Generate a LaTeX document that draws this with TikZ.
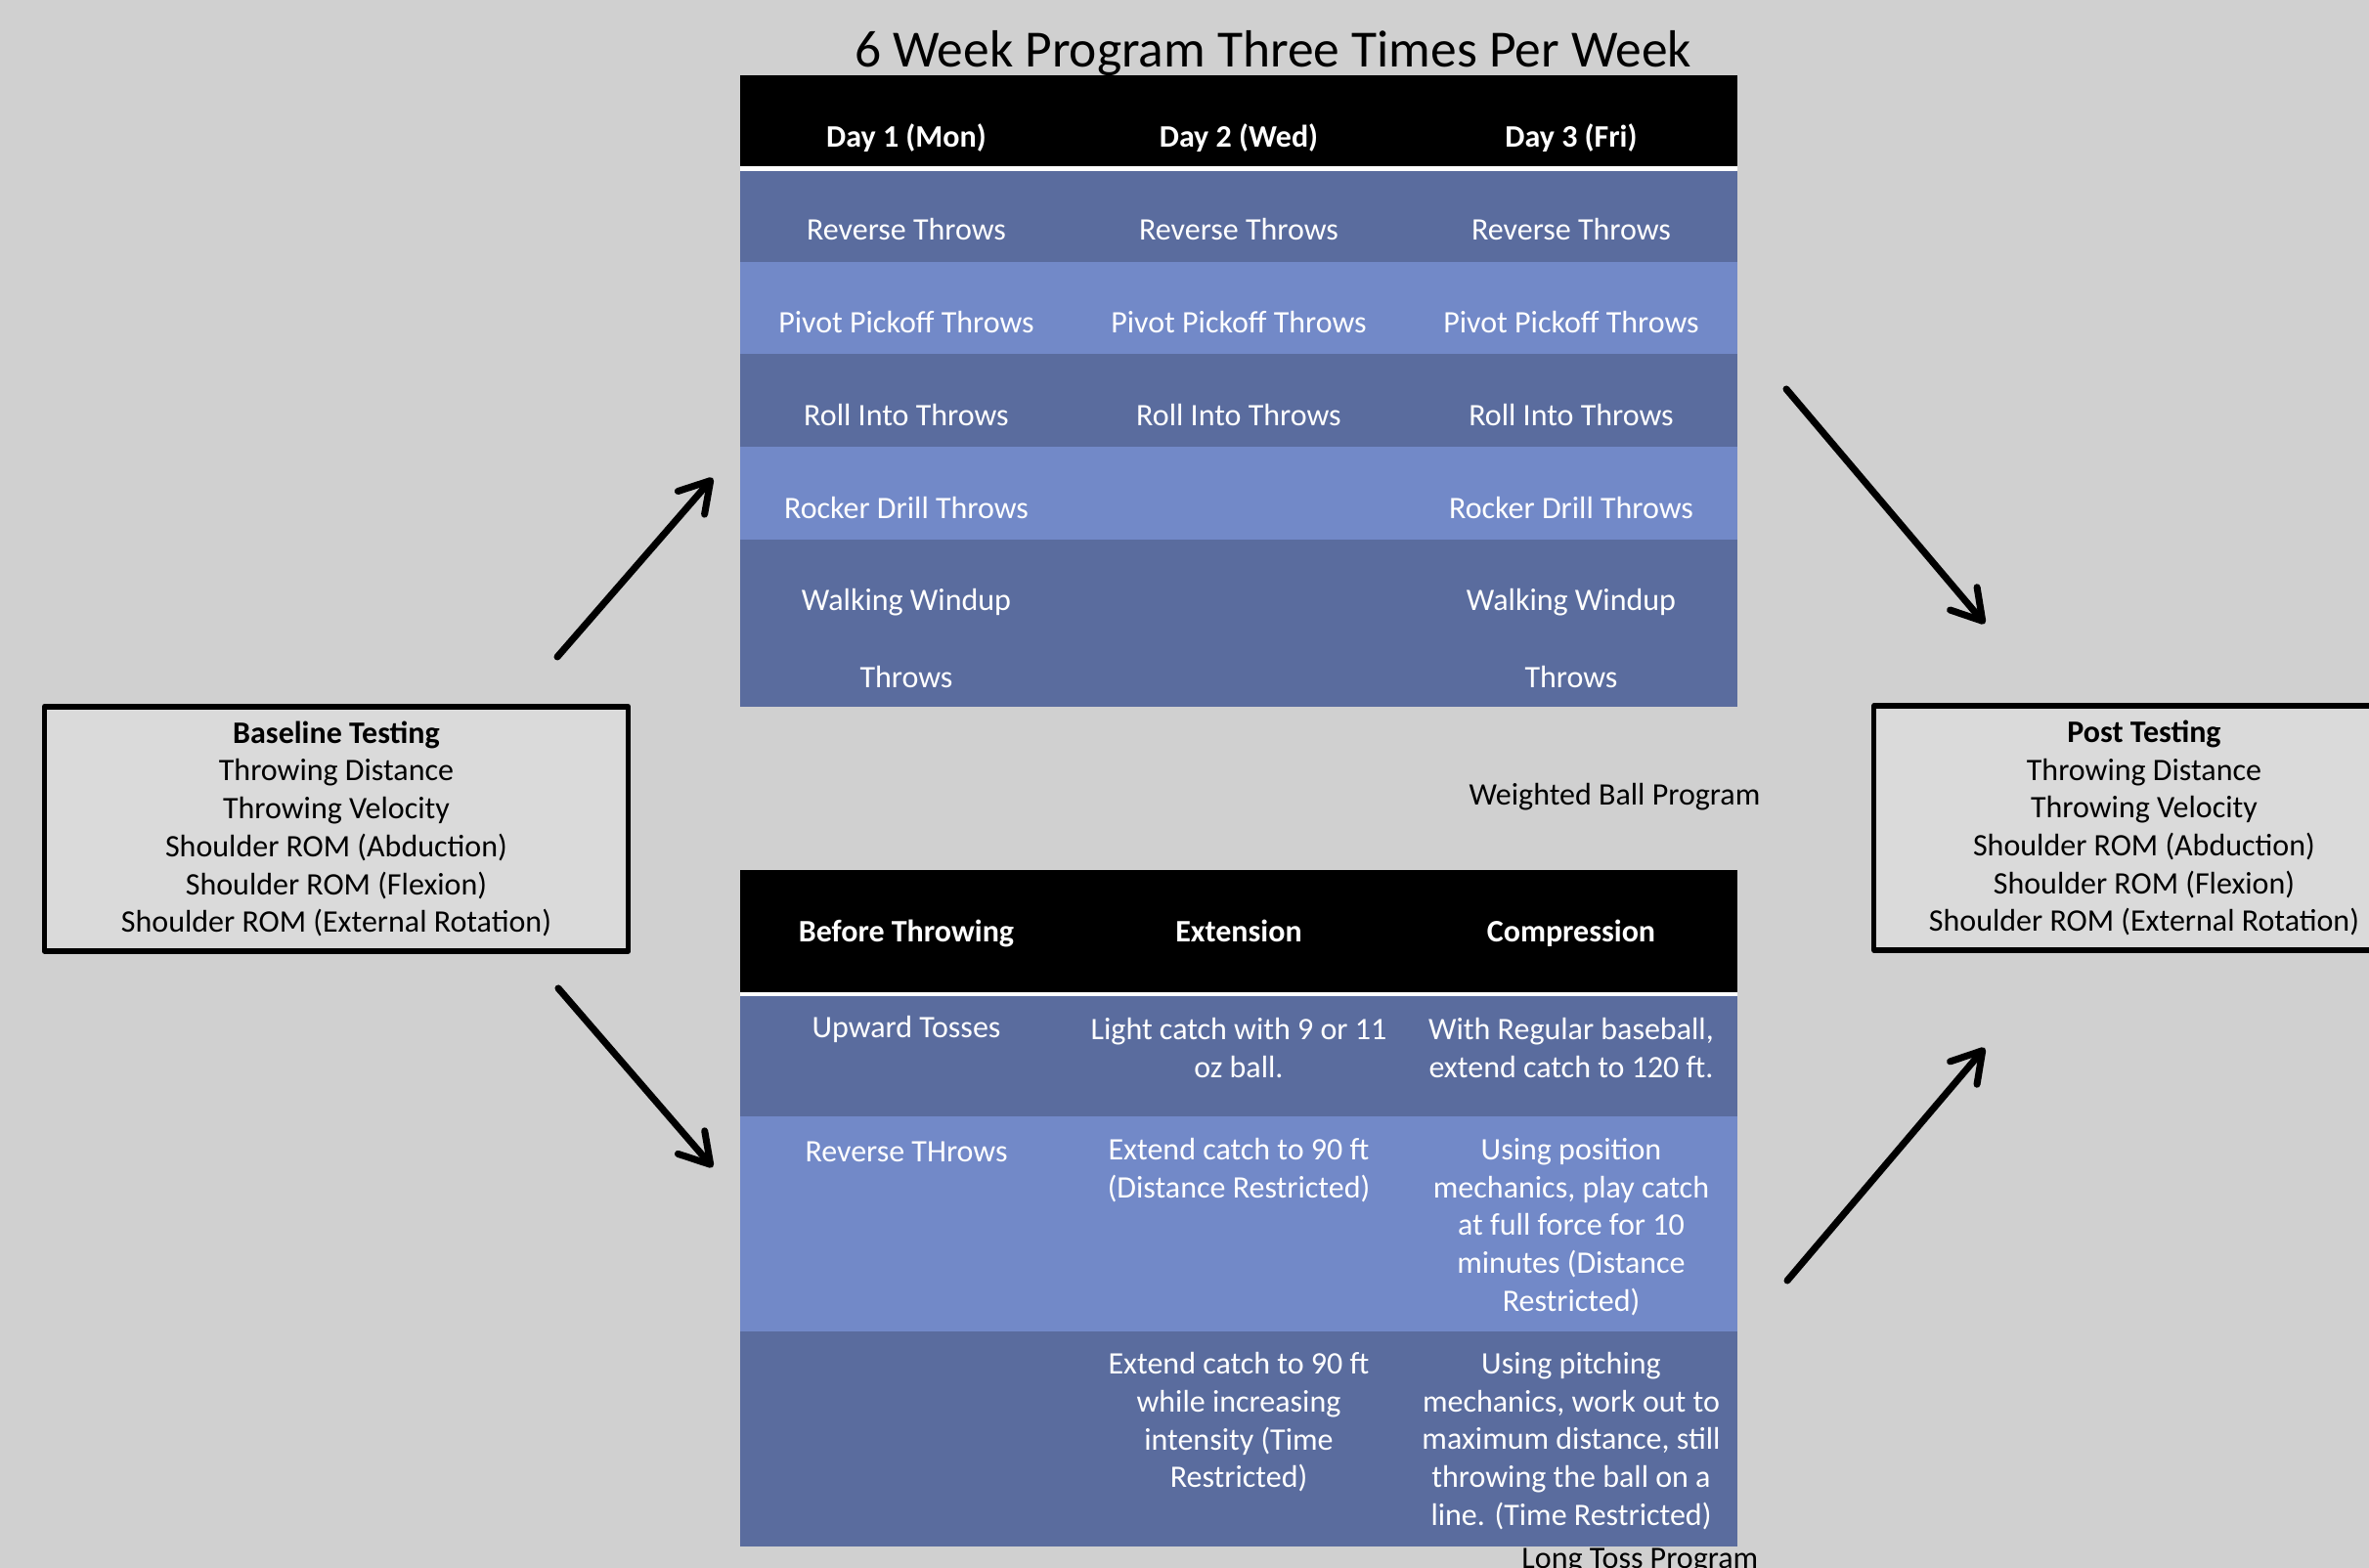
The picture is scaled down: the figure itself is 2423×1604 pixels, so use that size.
\documentclass[tikz,border=0pt]{standalone}
\usepackage{fontspec}
\setmainfont{Carlito}
\usetikzlibrary{arrows.meta}
\definecolor{bggray}{RGB}{208,208,208}
\definecolor{boxgray}{RGB}{218,218,218}
\definecolor{rowdark}{RGB}{90,108,158}
\definecolor{rowlight}{RGB}{114,137,200}
\begin{document}
\begin{tikzpicture}[x=0.01cm, y=-0.01cm, font=\fontsize{9.1}{11}\selectfont, line join=round, line cap=round,
    >={Straight Barb[length=0.3cm,width=0.36cm,round]},
    cell/.style={text=white, align=center, inner sep=0pt},
    head/.style={text=white, font=\fontsize{9.1}{11}\selectfont\bfseries, inner sep=0pt, anchor=base},
    testbox/.style={draw, line width=1.5pt, fill=boxgray, align=center, minimum height=2.5cm, inner sep=0pt},
    arr/.style={->, line width=2pt}]
    \fill[bggray] (0,0) rectangle (2423,1604);
    \clip (0,0) rectangle (2423,1604);
    \node (title) at (1302,55) {\fontsize{15.2}{18}\selectfont 6 Week Program Three Times Per Week};
    % weighted ball table
    \fill[black] (757,77) rectangle (1777,170);
    \fill[white] (757,170) rectangle (1777,175);
    \fill[rowdark] (757,175) rectangle (1777,268);
    \fill[rowlight] (757,268) rectangle (1777,362);
    \fill[rowdark] (757,362) rectangle (1777,457);
    \fill[rowlight] (757,457) rectangle (1777,552);
    \fill[rowdark] (757,552) rectangle (1777,723);
    \node[head] (mon) at (927,151) {Day 1 (Mon)};
    \node[head] (wed) at (1267,151) {Day 2 (Wed)};
    \node[head] (fri) at (1607,151) {Day 3 (Fri)};
    \foreach \c/\d in {927/m, 1267/w, 1607/f} {
        \node[cell] (rev\d) at (\c,235) {Reverse Throws};
        \node[cell] (piv\d) at (\c,330) {Pivot Pickoff Throws};
        \node[cell] (roll\d) at (\c,425) {Roll Into Throws};
    }
    \node[cell] (rockm) at (927,520) {Rocker Drill Throws};
    \node[cell] (rockf) at (1607,520) {Rocker Drill Throws};
    \node[cell] (walkm) at (927,653) {Walking Windup\\[11.2pt]Throws};
    \node[cell] (walkf) at (1607,653) {Walking Windup\\[11.2pt]Throws};
    \node[anchor=east, inner sep=0pt] (wbp) at (1801,815) {Weighted Ball Program};
    % long toss table
    \fill[black] (757,890) rectangle (1777,1015);
    \fill[white] (757,1015) rectangle (1777,1019);
    \fill[rowdark] (757,1019) rectangle (1777,1142);
    \fill[rowlight] (757,1142) rectangle (1777,1362);
    \fill[rowdark] (757,1362) rectangle (1777,1582);
    \node[head] (before) at (927,964) {Before Throwing};
    \node[head] (ext) at (1267,964) {Extension};
    \node[head] (comp) at (1607,964) {Compression};
    \node[cell] (toss) at (927,1053) {Upward Tosses};
    \node[cell] (light) at (1267,1072) {Light catch with 9 or 11\\oz ball.};
    \node[cell] (regular) at (1607,1072) {With Regular baseball,\\extend catch to 120 ft.};
    \node[cell] (revthr) at (927,1178) {Reverse THrows};
    \node[cell] (ext90) at (1267,1197) {Extend catch to 90 ft\\(Distance Restricted)};
    \node[cell] (posmech) at (1607,1255) {Using position\\mechanics, play catch\\at full force for 10\\minutes (Distance\\Restricted)};
    \node[cell] (ext90t) at (1267,1455) {Extend catch to 90 ft\\while increasing\\intensity (Time\\Restricted)};
    \node[cell] (pitmech) at (1607,1474) {Using pitching\\mechanics, work out to\\maximum distance, still\\throwing the ball on a\\line. (Time Restricted)};
    \node[anchor=base east, inner sep=0pt] (ltp) at (1799,1605) {Long Toss Program};
    % testing boxes
    \node[testbox, minimum width=5.97cm] (base) at (344,848) {\textbf{Baseline Testing}\\Throwing Distance\\Throwing Velocity\\Shoulder ROM (Abduction)\\Shoulder ROM (Flexion)\\Shoulder ROM (External Rotation)};
    \node[testbox, minimum width=5.52cm] (post) at (2193,847) {\textbf{Post Testing}\\Throwing Distance\\Throwing Velocity\\Shoulder ROM (Abduction)\\Shoulder ROM (Flexion)\\Shoulder ROM (External Rotation)};
    % arrows
    \coordinate (a1) at (570,672);  \coordinate (b1) at (729,489);
    \coordinate (a2) at (571,1011); \coordinate (b2) at (729,1194);
    \coordinate (a3) at (1827,398); \coordinate (b3) at (2030,638);
    \coordinate (a4) at (1828,1310); \coordinate (b4) at (2030,1072);
    \foreach \i in {1,...,4} \draw[arr] (a\i) -- (b\i);
\end{tikzpicture}
\end{document}
